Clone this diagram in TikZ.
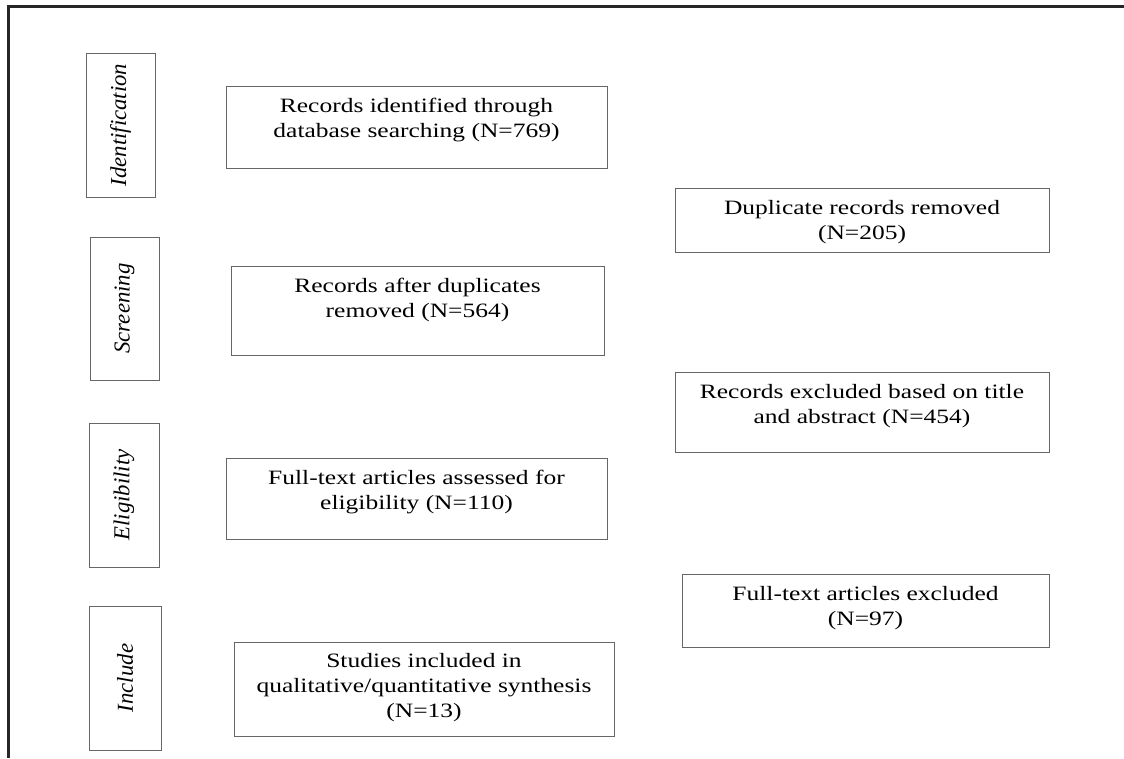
\documentclass[tikz,border=0pt]{standalone}
\usepackage{fontspec}
\setmainfont{Liberation Serif}
\newfontfamily\boxfont[FakeStretch=1.25]{Liberation Serif}
\usetikzlibrary{positioning}

\begin{document}
\begin{tikzpicture}[x=0.025cm,y=-0.025cm,semithick,
  box/.style 2 args={draw=black!60,line width=0.7pt,inner sep=0pt,
    minimum width=#1*0.025cm,minimum height=#2*0.025cm}]
  \tikzstyle{stage}=[font=\fontsize{16.2}{19}\selectfont\itshape,rotate=90]
  \tikzstyle{txt}=[font=\fontsize{14.5}{17.8}\boxfont,align=center,inner sep=0pt]
\useasboundingbox (0,0) rectangle (1124,758);
\coordinate (tr) at (1124,6.5);
\coordinate (bl) at (8.5,758);
\draw[line width=1.5pt,black!85] (tr) -| (bl);
% stages
\node[box={144}{69},stage] (idS) at (120.5,125) {Identification};
\node[box={143}{69},stage] (scS) at (124.5,308.5) {Screening};
\node[box={144}{70},stage] (elS) at (124,495) {Eligibility};
\node[box={144}{72},stage] (inS) at (125,678) {Include};
% main column
\node[box={381}{82}] (rec) at (416.5,127) {};
\node[box={373}{89}] (aft) at (417.5,310.5) {};
\node[box={381}{81}] (ful) at (416.5,498.5) {};
\node[box={380}{94}] (stu) at (424,689) {};
\node[txt,below=9pt of rec.north] (recT) {Records identified through\\database searching (N=769)};
\node[txt,below=9pt of aft.north] (aftT) {Records after duplicates\\removed (N=564)};
\node[txt,below=9pt of ful.north] (fulT) {Full-text articles assessed for\\eligibility (N=110)};
\node[txt,below=8pt of stu.north] (stuT) {Studies included in\\qualitative/quantitative synthesis\\(N=13)};
% excluded column
\node[box={374}{64}] (dup) at (862,220) {};
\node[box={374}{80}] (exc) at (862,412) {};
\node[box={367}{73}] (fex) at (865.5,610.5) {};
\node[txt,below=9pt of dup.north] (dupT) {Duplicate records removed\\(N=205)};
\node[txt,below=9pt of exc.north] (excT) {Records excluded based on title\\and abstract (N=454)};
\node[txt,below=9pt of fex.north] (fexT) {Full-text articles excluded\\(N=97)};
\end{tikzpicture}
\end{document}
